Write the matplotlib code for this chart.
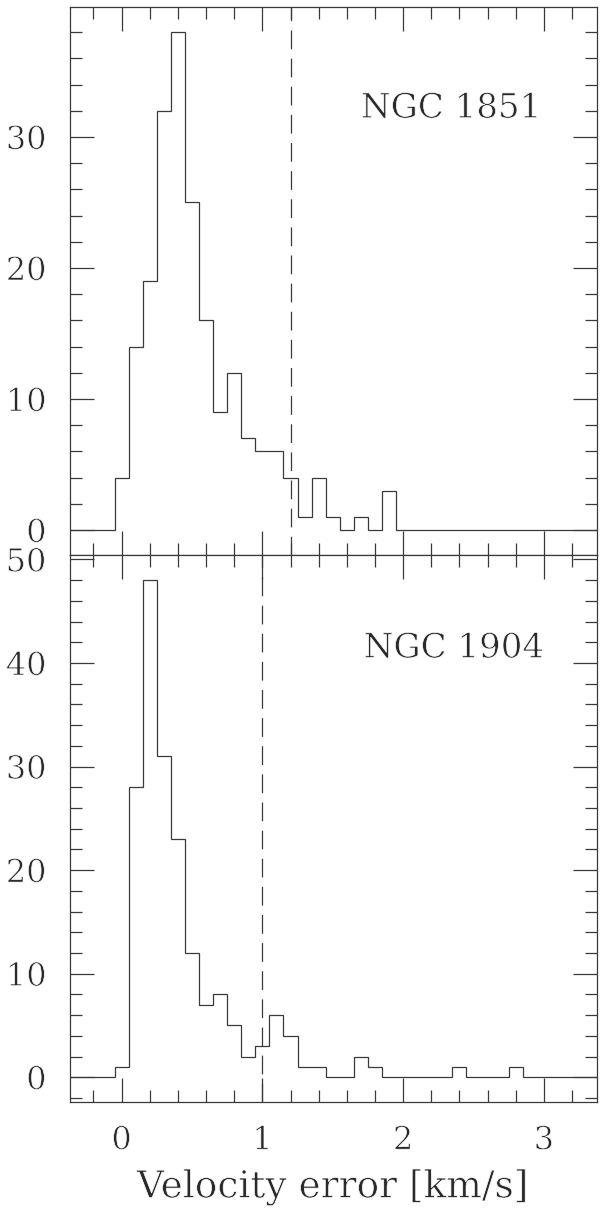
import numpy as np
import matplotlib
matplotlib.use("Agg")
import matplotlib.pyplot as plt
from matplotlib.ticker import MultipleLocator
import matplotlib.patheffects as pe

# ---- data (bin centres 0.0, 0.1, ... ; bin width 0.1 km/s) ----
bin_width = 0.1
first_center = 0.0
counts_1851 = [4, 14, 19, 32, 38, 25, 16, 9, 12, 7, 6, 6, 4, 1, 4, 1, 0, 1, 0, 3]
counts_1904 = [1, 28, 48, 31, 23, 12, 7, 8, 5, 2, 3, 6, 4, 1, 1, 0, 0, 2, 1,
               0, 0, 0, 0, 0, 1, 0, 0, 0, 1]
cut_1851 = 1.2
cut_1904 = 1.0
labels = ["NGC 1851", "NGC 1904"]
xticks = [0, 1, 2, 3]
yticks_1851 = [0, 10, 20, 30]
yticks_1904 = [0, 10, 20, 30, 40, 50]
xlabel = "Velocity error [km/s]"

XLIM = (-0.37, 3.375)
LC = "#3a3a3a"
FONT = "DejaVu Serif"
thin = [pe.Normal(), pe.PathPatchEffect(edgecolor="white", facecolor="none", linewidth=0.5)]

plt.rcParams["font.family"] = [FONT, "DejaVu Sans"]

fig = plt.figure(figsize=(6, 12.08), dpi=100)
W = 600.0
H = 1208.0
left = 69.5 / W
width = (596.7 - 69.5) / W
ax1 = fig.add_axes([left, 1 - 555.3 / H, width, (555.3 - 7.3) / H])
ax2 = fig.add_axes([left, 1 - 1102.3 / H, width, (1102.3 - 555.3) / H])


def draw(ax, counts, cut, label, yticks, ylim, lab_y, lab_x, show_x):
    n_pad_left = 5
    n_total = 40
    c = np.zeros(n_total)
    c[n_pad_left:n_pad_left + len(counts)] = counts
    edges = first_center - bin_width / 2 - n_pad_left * bin_width + bin_width * np.arange(n_total + 1)
    ax.stairs(c, edges, color=LC, lw=0.9, baseline=None)
    ax.axvline(cut, color=LC, lw=0.9, linestyle=(0, (15, 7.5)))
    ax.set_xlim(*XLIM)
    ax.set_ylim(*ylim)
    ax.xaxis.set_major_locator(MultipleLocator(1))
    ax.xaxis.set_minor_locator(MultipleLocator(0.2))
    ax.yaxis.set_major_locator(MultipleLocator(10))
    ax.yaxis.set_minor_locator(MultipleLocator(2))
    ax.set_yticks(yticks)
    ax.set_xticks(xticks)
    ax.tick_params(which="both", direction="in", top=True, right=True,
                   color=LC, width=0.9, labelcolor="#2a2a2a", labelsize=23)
    ax.tick_params(which="major", length=17.3, pad=16.5)
    ax.tick_params(which="minor", length=8.6)
    if not show_x:
        ax.tick_params(labelbottom=False)
    for s in ax.spines.values():
        s.set_color(LC)
        s.set_linewidth(0.9)
    for t in ax.get_xticklabels() + ax.get_yticklabels():
        t.set_path_effects(thin)
    ax.text(lab_x, lab_y, label, transform=ax.transAxes, ha="center", va="baseline",
            fontsize=24.5, color="#2a2a2a", path_effects=thin)


draw(ax1, counts_1851, cut_1851, labels[0], yticks_1851, (-1.93, 39.9), 0.7985, 0.7237, False)
draw(ax2, counts_1904, cut_1904, labels[1], yticks_1904, (-2.42, 50.4), 0.813, 0.729, True)

fig.text(332.5 / W, 1 - 1197.5 / H, xlabel, ha="center", va="baseline",
         fontsize=27, color="#2a2a2a", path_effects=thin)

fig.savefig("out.png", dpi=100)
